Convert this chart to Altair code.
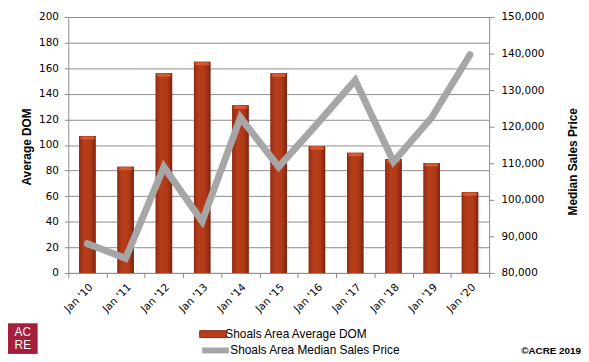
import altair as alt
import pandas as pd

periods = ["Jan '10", "Jan '11", "Jan '12", "Jan '13", "Jan '14", "Jan '15",
           "Jan '16", "Jan '17", "Jan '18", "Jan '19", "Jan '20"]
avg_dom = [107, 83, 156, 165, 131, 156, 99, 94, 89, 86, 63]
median_price = [88000, 84000, 109000, 94100, 122500, 109000,
                120700, 132700, 110400, 122500, 139700]
dom_ticks = list(range(0, 201, 20))
price_ticks = list(range(80000, 150001, 10000))

df = pd.DataFrame({
    "period": periods,
    "dom": avg_dom,
    "price": median_price,
    "s1": "Shoals Area Average DOM",
    "s2": "Shoals Area Median Sales Price",
})

TICK_FONT = "DejaVu Sans"
AX_COLOR = "#8C8C8C"

x_enc = alt.X(
    "period:N", sort=None, title=None,
    scale=alt.Scale(paddingInner=0, paddingOuter=0),
    axis=alt.Axis(labelAngle=315, tickBand="extent", tickSize=5,
                  tickColor=AX_COLOR, domainColor=AX_COLOR,
                  labelFont=TICK_FONT, labelFontSize=10.5, labelColor="#000000",
                  labelPadding=4),
)

y_left = alt.Y(
    "dom:Q",
    scale=alt.Scale(domain=[0, 200], nice=False),
    axis=alt.Axis(orient="left", values=dom_ticks, title="Average DOM",
                  grid=True, gridColor=AX_COLOR, tickSize=4, tickColor=AX_COLOR,
                  domainColor=AX_COLOR, labelFont=TICK_FONT, labelFontSize=10.5,
                  labelColor="#000000", labelPadding=6,
                  titleFont="Liberation Sans", titleFontSize=12, titleFontWeight="bold",
                  titleX=-42, titleY=131, titleAngle=270, titleBaseline="middle",
                  titleAlign="center"),
)

base = alt.Chart(df)

bar_legend = base.mark_bar(width=alt.RelativeBandSize(0.43)).encode(
    x=x_enc,
    y=y_left,
    fill=alt.Fill("s1:N", scale=alt.Scale(range=["#B43C1B"]),
                  legend=alt.Legend(orient="none", legendX=139, legendY=313.5,
                                    title=None, padding=0, labelLimit=400,
                                    symbolType="M-2,-0.52H2V0.52H-2Z",
                                    symbolSize=182, symbolStrokeColor="#8B2B13",
                                    symbolStrokeWidth=1, symbolOpacity=1,
                                    labelFont="Liberation Sans", labelFontSize=12,
                                    labelColor="#000000", labelOffset=5)),
)

bar_shade = base.mark_bar(
    width=alt.RelativeBandSize(0.43),
    fill=alt.Gradient(
        gradient="linear", x1=0, x2=1, y1=0, y2=0,
        stops=[alt.GradientStop(color="#8E2C12", offset=0),
               alt.GradientStop(color="#B83D1A", offset=0.3),
               alt.GradientStop(color="#B03A18", offset=0.7),
               alt.GradientStop(color="#7A240F", offset=1)],
    ),
).encode(x=x_enc, y=y_left)

bar_cap = base.mark_tick(size=14, thickness=3, color="#E5663F", yOffset=2).encode(
    x=x_enc, y=y_left,
)

left = alt.layer(bar_legend, bar_shade, bar_cap)

line = base.mark_line(strokeWidth=7, strokeCap="round", strokeJoin="miter").encode(
    x=x_enc,
    y=alt.Y(
        "price:Q",
        scale=alt.Scale(domain=[80000, 150000], nice=False),
        axis=alt.Axis(orient="right", values=price_ticks, format=",.0f",
                      title="Median Sales Price", grid=False, tickSize=5,
                      tickColor=AX_COLOR, domainColor=AX_COLOR,
                      labelFont=TICK_FONT, labelFontSize=10.5, labelColor="#000000",
                      labelPadding=7,
                      titleFont="Liberation Sans", titleFontSize=12,
                      titleFontWeight="bold", titleX=84, titleY=146,
                      titleAngle=270, titleBaseline="middle", titleAlign="center"),
    ),
    stroke=alt.Stroke("s2:N", scale=alt.Scale(range=["#A6A6A6"]),
                      legend=alt.Legend(orient="none", legendX=139, legendY=327.5,
                                        title=None, padding=0,
                                        symbolType="M-2,0H2",
                                        labelLimit=400,
                                        symbolSize=182, symbolStrokeWidth=6,
                                        labelFont="Liberation Sans", labelFontSize=12,
                                        labelColor="#000000", labelOffset=5)),
)

deco_df = pd.DataFrame({"a": [0]})
deco = alt.Chart(deco_df)
logo_box = deco.mark_rect(color="#A51F3B").encode(
    x=alt.value(-61), x2=alt.value(-31), y=alt.value(310), y2=alt.value(341))
logo_ac = deco.mark_text(text="AC", color="white", font="Liberation Sans",
                         fontSize=12, align="center", baseline="middle").encode(
    x=alt.value(-46), y=alt.value(319))
logo_re = deco.mark_text(text="RE", color="white", font="Liberation Sans",
                         fontSize=12, align="center", baseline="middle").encode(
    x=alt.value(-46), y=alt.value(332))
copyright_txt = deco.mark_text(text="©ACRE 2019", color="#000000",
                               font="Liberation Sans", fontSize=10,
                               fontWeight="bold", align="right",
                               baseline="middle").encode(
    x=alt.value(519), y=alt.value(338))

chart = alt.layer(left, line).resolve_scale(y="independent")
chart = alt.layer(chart, logo_box, logo_ac, logo_re, copyright_txt).properties(
    width=426, height=259,
    padding={"left": 61, "top": 7, "right": 93, "bottom": 86},
    autosize=alt.AutoSizeParams(type="none"),
    background="white",
).configure_view(stroke=None)

chart.save("out.html", embed_options={"renderer": "svg", "actions": False})
